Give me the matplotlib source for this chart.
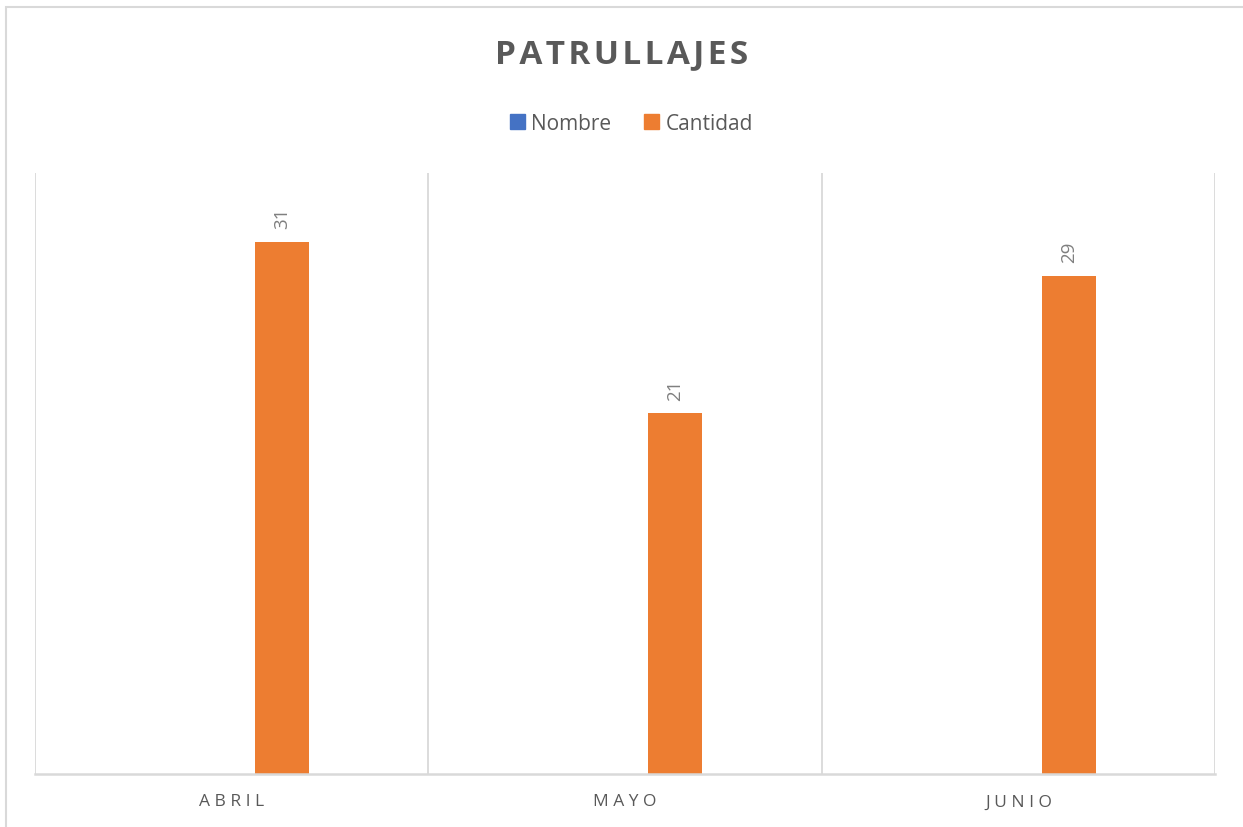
import matplotlib
matplotlib.use("Agg")
import matplotlib.pyplot as plt
import numpy as np
from matplotlib.patches import Rectangle

plt.rcParams["font.family"] = ["Open Sans", "DejaVu Sans"]

months = ["ABRIL", "MAYO", "JUNIO"]
nombre = [0, 0, 0]
cantidad = [31, 21, 29]
series_names = ["Nombre", "Cantidad"]

BLUE = "#4472C4"
ORANGE = "#ED7D31"
GRID = "#D9D9D9"
TEXT = "#595959"


def spaced(s, sep="\u2009"):
    return sep.join(s)


fig = plt.figure(figsize=(12.43, 8.28), dpi=100)
ax = fig.add_axes([35 / 1243, 53 / 828, 1180 / 1243, 601 / 828])

x = np.arange(len(months))
off = 0.128
w = 0.137
ax.bar(x - off, nombre, w, color=BLUE, label=series_names[0])
bars = ax.bar(x + off, cantidad, w, color=ORANGE, label=series_names[1])

# data labels, rotated like the Excel original
for rect, v in zip(bars, cantidad):
    ax.annotate(str(v), (rect.get_x() + rect.get_width() / 2, v),
                xytext=(0, 10), textcoords="offset points",
                rotation=90, ha="center", va="bottom",
                fontsize=13.5, color="#7F7F7F")

ax.set_xlim(-0.5, len(months) - 0.5)
ax.set_ylim(0, 35)
for xv in np.arange(-0.5, len(months), 1.0):
    ax.axvline(xv, color=GRID, lw=1.3, zorder=0)

for s in ["top", "right", "left"]:
    ax.spines[s].set_visible(False)
ax.spines["bottom"].set_color(GRID)
ax.spines["bottom"].set_linewidth(1.8)
ax.set_yticks([])
ax.set_xticks(x)
ax.set_xticklabels([spaced(m, " ") for m in months], fontsize=12.5, color=TEXT)
ax.tick_params(axis="x", length=0, pad=14)

fig.text(0.5, 1 - 55 / 828, spaced("PATRULLAJES", "\u200a"), ha="center", va="center",
         fontsize=24, fontweight="bold", color=TEXT)

handles = [Rectangle((0, 0), 1, 1, color=BLUE), Rectangle((0, 0), 1, 1, color=ORANGE)]
fig.legend(handles, series_names, loc="center", bbox_to_anchor=(0.508, 1 - 124 / 828),
           ncol=2, frameon=False, fontsize=15, labelcolor=TEXT,
           handlelength=0.7, handleheight=0.7, handletextpad=0.3, columnspacing=1.6)

# outer chart border (left/top visible, rest cut by the image edge)
fig.patches.append(Rectangle((6 / 1243, -0.05), 1.1, 1 - 8 / 828 + 0.05,
                             transform=fig.transFigure, fill=False,
                             edgecolor=GRID, lw=1.5))

fig.savefig("out.png", dpi=100)
